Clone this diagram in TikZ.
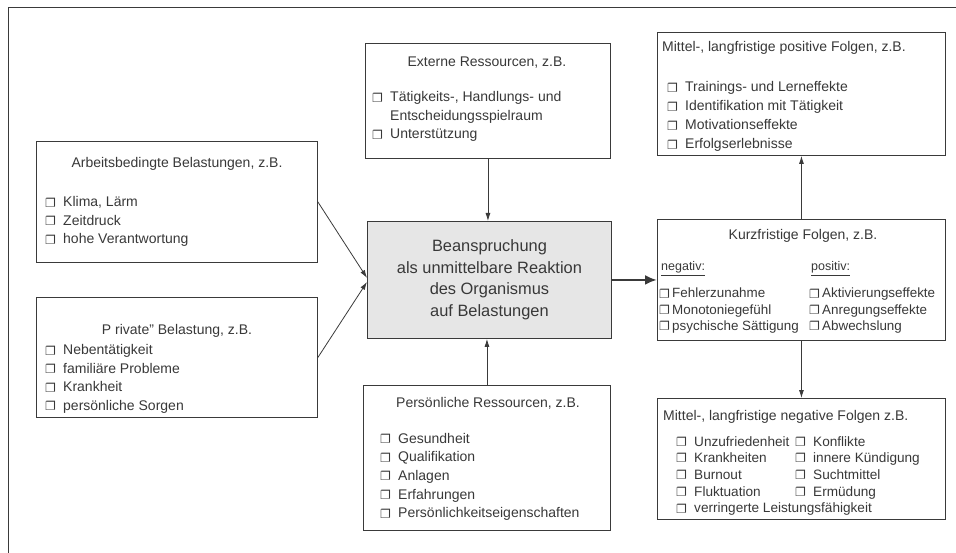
\documentclass[tikz,border=0pt]{standalone}
\usepackage{fontspec}
\setmainfont{Liberation Sans}
\newfontfamily\symf{DejaVu Sans}
\usetikzlibrary{arrows.meta,calc}
\definecolor{ln}{HTML}{3A3A3A}
\definecolor{tx}{HTML}{383838}
\definecolor{cfill}{HTML}{E6E6E6}
\newcommand\bxw[1]{\makebox[#1][l]{\symf\fontsize{12}{10}\selectfont\raisebox{-0.3pt}{❐}}}
\newcommand\bx{\bxw{18pt}}
\newcommand\bs{\bxw{13pt}}
\newcommand\lst[1]{\begin{tabular}[t]{@{}l@{}}#1\end{tabular}}
\begin{document}
\begin{tikzpicture}[x=1pt,y=-1pt,
  box/.style={draw=ln, line width=0.9pt, inner sep=0pt},
  txt/.style={inner sep=0pt, text=tx, font=\fontsize{14}{18.5}\selectfont},
  tight/.style={inner sep=0pt, text=tx, font=\fontsize{13.4}{16.3}\selectfont},
  arr/.style={draw=ln, line width=0.8pt, -{Latex[length=8pt,width=5pt]}},
  bigarr/.style={draw=ln, line width=2.4pt, -{Latex[length=12pt,width=10pt]}}]
\useasboundingbox (0,0) rectangle (956,553);
% outer frame
\draw[ln, line width=1pt] (8,553) -- (8,8) -- (956,8);

% boxes
\node[box, minimum width=281pt, minimum height=121pt, anchor=north west] (arb) at (36,141) {};
\node[box, minimum width=281pt, minimum height=120pt, anchor=north west] (priv) at (36,297) {};
\node[box, minimum width=245pt, minimum height=115pt, anchor=north west] (ext) at (365,43) {};
\node[box, fill=cfill, minimum width=244pt, minimum height=117pt, anchor=north west] (ctr) at (367,221) {};
\node[box, minimum width=247pt, minimum height=145pt, anchor=north west] (pers) at (363,385) {};
\node[box, minimum width=288pt, minimum height=123pt, anchor=north west] (pos) at (657,32) {};
\node[box, minimum width=288pt, minimum height=121pt, anchor=north west] (kurz) at (657,219) {};
\node[box, minimum width=288pt, minimum height=121pt, anchor=north west] (neg) at (657,398) {};

% texts: Arbeitsbedingte
\node[txt, anchor=base] (arbT) at (177,168) {Arbeitsbedingte Belastungen, z.B.};
\node[txt, anchor=base west] (arbL) at (45,207) {\lst{\bx Klima, Lärm\\ \bx Zeitdruck\\ \bx hohe Verantwortung}};
% Private
\node[txt, anchor=base] (privT) at (177,335) {P rivate” Belastung, z.B.};
\node[txt, anchor=base west] (privL) at (45,355) {\lst{\bx Nebentätigkeit\\ \bx familiäre Probleme\\ \bx Krankheit\\ \bx persönliche Sorgen}};
% Externe
\node[txt, anchor=base] (extT) at (487,67) {Externe Ressourcen, z.B.};
\node[txt, anchor=base west] (extL) at (372,102) {\lst{\bx Tätigkeits-, Handlungs- und\\ \hspace*{18pt}Entscheidungsspielraum\\ \bx Unterstützung}};
% Center
\node[inner sep=0pt, text=tx, font=\fontsize{16.4}{21.5}\selectfont, align=center] (ctrT) at (ctr.center) {Beanspruchung\\ als unmittelbare Reaktion\\ des Organismus\\ auf Belastungen};
% Persönliche
\node[txt, anchor=base] (persT) at (488,407) {Persönliche Ressourcen, z.B.};
\node[txt, anchor=base west, font=\fontsize{14}{18.7}\selectfont] (persL) at (380,443) {\lst{\bx Gesundheit\\ \bx Qualifikation\\ \bx Anlagen\\ \bx Erfahrungen\\ \bx Persönlichkeitseigenschaften}};
% Positive
\node[txt, anchor=base west] (posT) at (662,52) {Mittel-, langfristige positive Folgen, z.B.};
\node[txt, anchor=base west, font=\fontsize{14}{19}\selectfont] (posL) at (667,92) {\lst{\bx Trainings- und Lerneffekte\\ \bx Identifikation mit Tätigkeit\\ \bx Motivationseffekte\\ \bx Erfolgserlebnisse}};
% Kurzfristige
\node[txt, anchor=base] (kurzT) at (803,240) {Kurzfristige Folgen, z.B.};
\node[tight, anchor=base west, font=\fontsize{12.5}{15}\selectfont] (negH) at (661,271) {\underline{negativ:}};
\node[tight, anchor=base west, font=\fontsize{12.5}{15}\selectfont] (posH) at (811,271) {\underline{positiv:}};
\node[tight, anchor=base west] (kurzN) at (659,298) {\lst{\bs Fehlerzunahme\\ \bs Monotoniegefühl\\ \bs psychische Sättigung}};
\node[tight, anchor=base west] (kurzP) at (809,298) {\lst{\bs Aktivierungseffekte\\ \bs Anregungseffekte\\ \bs Abwechslung}};
% Negative
\node[txt, anchor=base west] (negT) at (663,420) {Mittel-, langfristige negative Folgen z.B.};
\node[tight, anchor=base west, font=\fontsize{13.6}{16.7}\selectfont] (negA) at (676,446) {\lst{\bx Unzufriedenheit\\ \bx Krankheiten\\ \bx Burnout\\ \bx Fluktuation\\ \bx verringerte Leistungsfähigkeit}};
\node[tight, anchor=base west, font=\fontsize{13.6}{16.7}\selectfont] (negB) at (795,446) {\lst{\bx Konflikte\\ \bx innere Kündigung\\ \bx Suchtmittel\\ \bx Ermüdung}};

% connectors
\draw[arr] (arb.east) -- ($(ctr.west)+(0,-2)$);
\draw[arr] (priv.east) -- ($(ctr.west)+(0,2)$);
\draw[arr] (ext.south) -- (ext.south |- ctr.north);
\draw[arr] (pers.north) -- (pers.north |- ctr.south);
\draw[bigarr] (ctr.east) -- (kurz.west);
\draw[arr] (kurz.north) -- (pos.south);
\draw[arr] (kurz.south) -- (neg.north);
\end{tikzpicture}
\end{document}
